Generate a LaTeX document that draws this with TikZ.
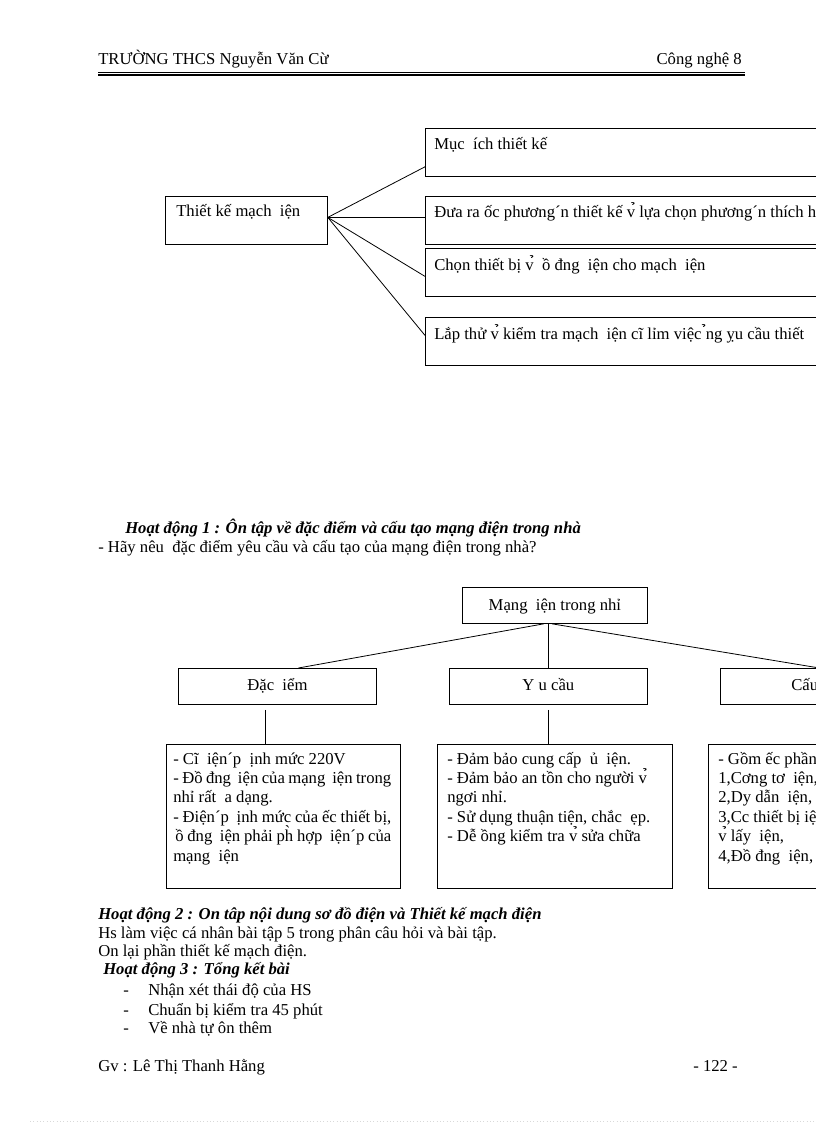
\documentclass[tikz,border=0pt]{standalone}
\usepackage{fontspec}
\setmainfont{Liberation Serif}
\usetikzlibrary{calc}
\begin{document}
\begin{tikzpicture}[x=0.75pt,y=-0.75pt,
  box/.style={draw, line width=0.6pt, inner sep=0pt, anchor=north west},
  sz/.style 2 args={minimum width=#1*0.75pt, minimum height=#2*0.75pt},
  txt/.style={inner sep=0pt, anchor=base west, font=\fontsize{12.5}{15}\selectfont},
  ctxt/.style={txt, anchor=base},
  hd/.style={txt, font=\fontsize{12.5}{15}\selectfont\bfseries\itshape},
  conn/.style={line width=0.6pt}]
\useasboundingbox (0,0) rectangle (816,1123);
\clip (0,0) rectangle (816,1123);

% header
\node[txt] (hl) at (98,65) {TRƯỜNG THCS Nguyễn Văn Cừ};
\node[txt, anchor=base east] (hr) at (742,65) {Công nghệ 8};
\coordinate (r1) at (98,72);
\coordinate (r2) at (745,72);
\draw[line width=0.5pt] (r1) -- (r2);
\draw[line width=1.8pt] ($(r1)+(0,2.8)$) -- ($(r2)+(0,2.8)$);

% top diagram
\node[box,sz={162}{48}] (L) at (165,196) {};
\node[box,sz={450}{48}] (B1) at (425,128) {};
\node[box,sz={450}{48}] (B2) at (425,196) {};
\node[box,sz={450}{48}] (B3) at (425,248) {};
\node[box,sz={450}{48}] (B4) at (425,317) {};
\node[txt] (tL) at ($(L.north west)+(11,21)$) {Thiết kế mạch~ iện};
\node[txt] (t1) at ($(B1.north west)+(9,22)$) {Mục~ ích thiết kế};
\node[txt] (t2) at ($(B2.north west)+(9,22)$) {Đưa ra ốc phương´n thiết kế v̉ lựa chọn phương´n thích h};
\node[txt] (t3) at ($(B3.north west)+(9,22)$) {Chọn thiết bị v̉~ ồ đng~ iện cho mạch~ iện};
\node[txt] (t4) at ($(B4.north west)+(9,22)$) {Lắp thử v̉ kiểm tra mạch~ iện cĩ lỉm việc ̉ng ỵu cầu thiết};
\draw[conn] ($(L.east)+(0,-3)$) -- ($(B1.south west)+(0,-10)$);
\draw[conn] ($(L.east)+(0,-3)$) -- ($(B2.west)+(0,-3)$);
\draw[conn] ($(L.east)+(0,-3)$) -- ($(B3.west)+(0,4)$);
\draw[conn] ($(L.east)+(0,-3)$) -- ($(B4.west)+(0,-6)$);

% Hoat dong 1
\node[hd] (h1) at (125,533) {Hoạt động 1 : Ôn tập về đặc điểm và cấu tạo mạng điện trong nhà};
\node[txt] (q1) at (98,552) {- Hãy nêu \ đặc điểm yêu cầu và cấu tạo của mạng điện trong nhà?};

% bottom diagram
\node[box,sz={185}{36}] (M) at (462,587) {};
\node[ctxt] (tM) at ($(M.north)+(0,23)$) {Mạng~ iện trong nhỉ};
\node[box,sz={198}{36}] (D) at (178,668) {};
\node[box,sz={198}{36}] (Y) at (449,668) {};
\node[box,sz={198}{36}] (C) at (720,668) {};
\node[ctxt] (tD) at ($(D.north)+(0,22)$) {Đặc~ iểm};
\node[ctxt] (tY) at ($(Y.north)+(0,22)$) {Y u cầu};
\node[txt] (tC) at ($(C.north west)+(71,22)$) {Cấu};
\draw[conn] ($(M.south)+(-11,0)$) -- ($(D.north)+(21,0)$);
\draw[conn] ($(M.south)+(-6.5,0)$) -- (Y.north);
\draw[conn] ($(M.south)+(-3,0)$) -- (C.north);

\node[box,sz={234}{144}] (A) at (166,744) {};
\node[box,sz={235}{144}] (Bx) at (437,744) {};
\node[box,sz={234}{144}] (Cx) at (708,744) {};
\draw[conn] ($(D.south)+(-12,5)$) -- ($(A.north)+(-18,0)$);
\draw[conn] ($(Y.south)+(0,5)$) -- ($(Bx.north)+(-6.5,0)$);
\draw[conn] ($(C.south)+(0,5)$) -- ($(Cx.north)+(-6,0)$);

% box A
\node[txt] (a1) at ($(A.north west)+(7,20)$) {- Cĩ~ iện´p~ ịnh mức 220V};
\node[txt] (a2) at ($(A.north west)+(7,39.4)$) {\makebox[163.5pt][s]{- Đồ đng~ iện của mạng~ iện trong}};
\node[txt] (a3) at ($(A.north west)+(7,58.8)$) {nhỉ rất~ a dạng.};
\node[txt] (a4) at ($(A.north west)+(7,78.2)$) {\makebox[163.5pt][s]{- Điện´p~ ịnh mức của ếc thiết bị,}};
\node[txt] (a5) at ($(A.north west)+(9,97.6)$) {\makebox[162pt][s]{ồ đng~ iện phải ph̀ hợp~ iện´p của}};
\node[txt] (a6) at ($(A.north west)+(7,117)$) {mạng~ iện};

% box B
\node[txt] (b1) at ($(Bx.north west)+(10,20)$) {- Đảm bảo cung cấp~ ủ~ iện.};
\node[txt] (b2) at ($(Bx.north west)+(10,39.4)$) {- Đảm bảo an tồn cho người v̉};
\node[txt] (b3) at ($(Bx.north west)+(10,58.8)$) {ngơi nhỉ.};
\node[txt] (b4) at ($(Bx.north west)+(10,78.2)$) {- Sử dụng thuận tiện, chắc~ ẹp.};
\node[txt] (b5) at ($(Bx.north west)+(10,97.6)$) {- Dễ ồng kiểm tra v̉ sửa chữa};

% box C
\node[txt] (c1) at ($(Cx.north west)+(10,20)$) {- Gồm ếc phần};
\node[txt] (c2) at ($(Cx.north west)+(10,39.4)$) {1,Cơng tơ~ iện,};
\node[txt] (c3) at ($(Cx.north west)+(10,58.8)$) {2,Dy dẫn~ iện,};
\node[txt] (c4) at ($(Cx.north west)+(10,78.2)$) {3,Cc thiết bị iệ};
\node[txt] (c5) at ($(Cx.north west)+(10,97.6)$) {v̉ lấy~ iện,};
\node[txt] (c6) at ($(Cx.north west)+(10,117)$) {4,Đồ đng~ iện,};

% Hoat dong 2, 3
\node[hd] (h2) at (98,919) {Hoạt động 2 : On tâp nội dung sơ đồ điện và Thiết kế mạch điện};
\node[txt] (p1) at (98,938) {Hs làm việc cá nhân bài tập 5 trong phân câu hỏi và bài tập.};
\node[txt] (p2) at (98,956) {On lại phần thiết kế mạch điện.};
\node[hd] (h3) at (103,974) {Hoạt động 3 : Tổng kết bài};
\node[txt] (d1) at (123,995) {-};
\node[txt] (d2) at (123,1015) {-};
\node[txt] (d3) at (123,1033) {-};
\node[txt] (e1) at (148,995) {Nhận xét thái độ của HS};
\node[txt] (e2) at (148,1015) {Chuẩn bị kiểm tra 45 phút};
\node[txt] (e3) at (148,1033) {Về nhà tự ôn thêm};

% footer
\node[txt] (f1) at (98,1071) {Gv : Lê Thị Thanh Hằng};
\node[txt, anchor=base east] (f2) at (738,1071) {- 122 -};
\coordinate (dl1) at (30,1121);
\coordinate (dl2) at (816,1121);
\draw[black!15, dotted, line width=0.5pt] (dl1) -- (dl2);
\end{tikzpicture}
\end{document}
